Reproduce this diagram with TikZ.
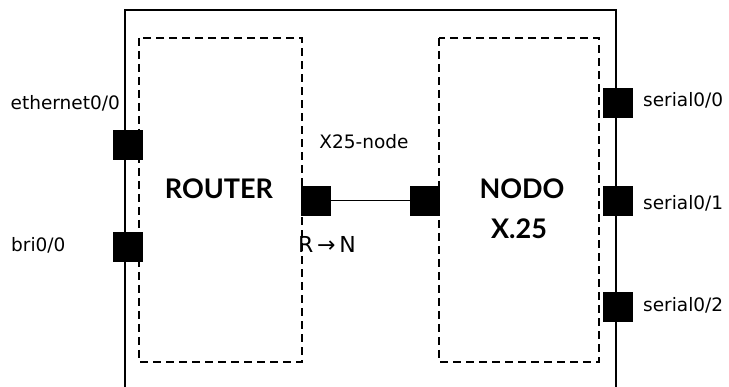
\documentclass[tikz,border=0pt]{standalone}
\usepackage{fontspec}
\setmainfont{Lato}
\newfontfamily\symfont{DejaVu Sans}
\usetikzlibrary{positioning}
\tikzset{
  port/.style={fill=black, draw=black, minimum size=29pt, inner sep=0pt},
  caja/.style={line width=1.6pt, dash pattern=on 8pt off 5pt},
  etiq/.style={inner sep=0pt, font=\symfont\fontsize{18.5}{18.5}\selectfont},
  titulo/.style={inner sep=0pt, font=\fontsize{27}{27}\selectfont\bfseries}
}

\begin{document}
\begin{tikzpicture}[x=1pt, y=-1pt]
\useasboundingbox (0,0) rectangle (729,387);
% chassis
\draw[line width=1.8pt] (125,387) -- (125,10) -- (616,10) -- (616,387);
\draw[caja] (139,38) rectangle (302,362);
\draw[caja] (439,38) rectangle (599,362);
% ports
\node[port] (eth) at (127.5,144.5) {};
\node[port] (bri) at (127.5,246.5) {};
\node[port] (rout) at (315.5,200.5) {};
\node[port] (nodin) at (425,200.5) {};
\node[port] (s0) at (617.5,103) {};
\node[port] (s1) at (617.5,200.5) {};
\node[port] (s2) at (617.5,306.5) {};
\draw[line width=1.4pt] (rout) -- (nodin);
% labels
\node[etiq, anchor=base east] (etheth) at (120,110) {ethernet0/0};
\node[etiq, anchor=base west] (etbri) at (11,252) {bri0/0};
\node[etiq, anchor=base] (etx25) at (364,149) {X25-node};
\node[etiq, anchor=base west, font=\symfont\fontsize{22}{22}\selectfont] (etrn) at (298,253) {R\,→\,N};
\node[etiq, anchor=base west] (ets0) at (643,107) {serial0/0};
\node[etiq, anchor=base west] (ets1) at (643,210) {serial0/1};
\node[etiq, anchor=base west] (ets2) at (643,312) {serial0/2};
\node[titulo, anchor=base] (router) at (219,199) {ROUTER};
\node[titulo, anchor=base] (nodo) at (522,199) {NODO};
\node[titulo, anchor=base] (x25) at (519,239) {X.25};
\end{tikzpicture}
\end{document}
